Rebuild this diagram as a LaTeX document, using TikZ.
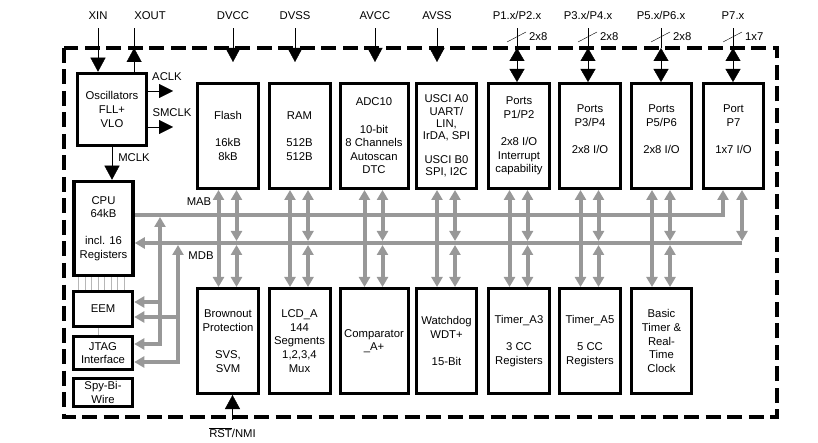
\documentclass[tikz,border=0pt]{standalone}
\usepackage{fontspec}
\setmainfont{Liberation Sans}
\usetikzlibrary{arrows.meta}
\definecolor{busgray}{RGB}{152,152,152}

\begin{document}
\begin{tikzpicture}[x=1pt,y=-1pt,font=\fontsize{11.3}{13.6}\selectfont,
  modbox/.style={draw,line width=3pt,align=center,inner sep=0pt,minimum height=105pt},
  lbox/.style={draw,line width=3.5pt,align=center,inner sep=0pt,minimum width=59pt},
  pinlbl/.style={inner sep=0pt,text height=8.2pt,text depth=0pt,outer ysep=9pt},
  pin/.style={-{Triangle[length=14pt,width=15pt]}},
  clk/.style={-{Triangle[length=14pt,width=14pt]}},
  dpin/.style={{Triangle[length=13pt,width=15pt]}-{Triangle[length=13pt,width=15pt]}},
  bus/.style={draw=busgray,line width=4pt},
  busend/.style={bus,-{Triangle[length=10pt,width=11pt]}},
  busarr/.style={bus,{Triangle[length=10pt,width=11pt]}-{Triangle[length=10pt,width=11pt]}},
  frame/.style={line width=4pt,dash pattern=on 15pt off 6.5pt},
  thinl/.style={draw=busgray!70,line width=0.8pt}]
  \useasboundingbox (0,0) rectangle (818,443);
  \coordinate (fnw) at (64,48);
  \coordinate (fse) at (777,417);
  \draw[frame] (fnw) rectangle (fse);

  \node[lbox,minimum width=69pt,minimum height=72pt] (osc) at (112,109.5) {Oscillators\\FLL+\\VLO};
  \node[lbox,minimum height=94pt] (cpu) at (103.5,228.5) {CPU\\64kB\\[13.6pt]incl. 16\\Registers};
  \node[lbox,minimum height=35pt] (eem) at (103,309) {EEM};
  \node[lbox,minimum height=33pt] (jtag) at (103,353) {JTAG\\Interface};
  \node[lbox,minimum height=28pt] (sbw) at (103,392.5) {Spy-Bi-\\Wire};

  \node[modbox,minimum width=61pt] (flash) at (228,136) {Flash\\[13.6pt]16kB\\8kB};
  \node[modbox,minimum width=61pt] (ram) at (299.5,136) {RAM\\[13.6pt]512B\\512B};
  \node[modbox,minimum width=68pt] (adc) at (374,136) {ADC10\\[13.6pt]10-bit\\8 Channels\\Autoscan\\DTC};
  \node[modbox,minimum width=60pt,font=\fontsize{11.3}{12.3}\selectfont] (usci) at (446.5,136)
    {USCI A0\\UART/\\LIN,\\IrDA, SPI\\[11pt]USCI B0\\SPI, I2C};
  \node[modbox,minimum width=61pt] (pa) at (519,136) {Ports\\P1/P2\\[13.6pt]2x8 I/O\\Interrupt\\capability};
  \node[modbox,minimum width=61pt] (pb) at (590,136) {Ports\\P3/P4\\[13.6pt]2x8 I/O\\\mbox{}};
  \node[modbox,minimum width=60pt] (pc) at (661.5,136) {Ports\\P5/P6\\[13.6pt]2x8 I/O\\\mbox{}};
  \node[modbox,minimum width=60pt] (p7) at (733.5,136) {Port\\P7\\[13.6pt]1x7 I/O\\\mbox{}};

  \node[modbox,minimum width=61pt] (bor) at (228,341) {Brownout\\Protection\\[13.6pt]SVS,\\SVM};
  \node[modbox,minimum width=61pt] (lcd) at (299.5,341) {LCD\_A\\144\\Segments\\1,2,3,4\\Mux};
  \node[modbox,minimum width=68pt] (comp) at (374,341) {Comparator\\\_A+};
  \node[modbox,minimum width=60pt] (wdt) at (446.5,341) {Watchdog\\WDT+\\[13.6pt]15-Bit};
  \node[modbox,minimum width=61pt] (ta3) at (519,341) {Timer\_A3\\[13.6pt]3 CC\\Registers};
  \node[modbox,minimum width=61pt] (ta5) at (590,341) {Timer\_A5\\[13.6pt]5 CC\\Registers};
  \node[modbox,minimum width=60pt] (btrtc) at (661.5,341) {Basic\\Timer \&\\Real-\\Time\\Clock};

  \node[pinlbl] (xin) at (98,15) {XIN};
  \node[pinlbl] (xout) at (150,15) {XOUT};
  \draw[pin] (xin.south) -- (xin.south |- osc.north);
  \draw[pin] (xout.south west |- osc.north) -- (xout.south west |- fnw);
  \draw (xout.south west |- fnw) -- (xout.south west);
  \coordinate (aclk) at (173,91);
  \coordinate (smclk) at (173,127);
  \draw[clk] (osc.east |- aclk) -- (aclk);
  \draw[clk] (osc.east |- smclk) -- (smclk);
  \node (aclkl) at (167,77) {ACLK};
  \node (smclkl) at (172,113) {SMCLK};
  \draw[pin] (osc.south) -- (osc.south |- cpu.north);
  \node (mclkl) at (134,158) {MCLK};

  \coordinate (pwr) at (0,62);
  \foreach \n/\x/\t in {dvcc/233/DVCC,dvss/295/DVSS,avcc/375/AVCC,avss/437/AVSS}{
    \node[pinlbl] (\n) at (\x,15) {\t};
    \draw[pin] (\n.south) -- (\n.south |- pwr);
  }
  \foreach \n/\x/\t/\m/\w in {pxa/517/{P1.x/P2.x}/pa/2x8,pxb/588/{P3.x/P4.x}/pb/2x8,
                             pxc/661/{P5.x/P6.x}/pc/2x8,pxd/733/P7.x/p7/1x7}{
    \node[pinlbl] (\n) at (\x,15) {\t};
    \draw (\n.south) -- (\n.south |- fnw);
    \draw[dpin] (\n.south |- fnw) -- (\n.south |- \m.north);
    \draw (\x-10,42) -- (\x+9,32);
    \node[right,inner sep=0pt] (w\n) at (\x+12,37) {\w};
  }
  \node[pinlbl] (rst) at (232.5,433) {$\overline{\mbox{RST}}$/NMI};
  \draw[pin] (rst.north) -- (rst.north |- bor.south);

  \coordinate (mab) at (723,215);
  \coordinate (mdb) at (742,243);
  \coordinate (mdbt) at (0,241);
  \coordinate (mdbb) at (0,245);
  \draw[busend] (cpu.east |- mab) -- (mab) -- (mab |- p7.south);
  \draw[busend] (mdb) -- (cpu.east |- mdb);
  \draw[busarr] (p7.south -| mdb) -- (mdb |- mdbt);
  \foreach \t/\b in {flash/bor,ram/lcd,adc/comp,usci/wdt,pa/ta3,pb/ta5,pc/btrtc}{
    \draw[busarr] ([xshift=-9.5pt]\t.south) -- ([xshift=-9.5pt]\b.north);
    \draw[busarr] ([xshift=8.5pt]\t.south) -- ([xshift=8.5pt]\t.south |- mdbt);
    \draw[busarr] ([xshift=8.5pt]\b.north |- mdbb) -- ([xshift=8.5pt]\b.north);
  }
  \node (mabl) at (199,202) {MAB};
  \node (mdbl) at (201,256) {MDB};

  \coordinate (ta) at (160,217);
  \coordinate (td) at (178,245);
  \coordinate (ea) at (160,302);
  \coordinate (ed) at (178,317);
  \coordinate (ja) at (160,344);
  \coordinate (jd) at (178,362);
  \draw[busarr] (ta) -- (ja) -- (ja -| jtag.east);
  \draw[busarr] (td) -- (jd) -- (jd -| jtag.east);
  \draw[busend] (ea) -- (ea -| eem.east);
  \draw[busend] (ed) -- (ed -| eem.east);
  \foreach \i in {0,...,7}
    \draw[thinl] ([xshift=6.5pt+\i*6.45pt]cpu.south west) -- ([xshift=6.5pt+\i*6.45pt]cpu.south west |- eem.north);
  \draw[thinl] ([xshift=-5pt]eem.south) -- ([xshift=-5pt]jtag.north);
\end{tikzpicture}
\end{document}
